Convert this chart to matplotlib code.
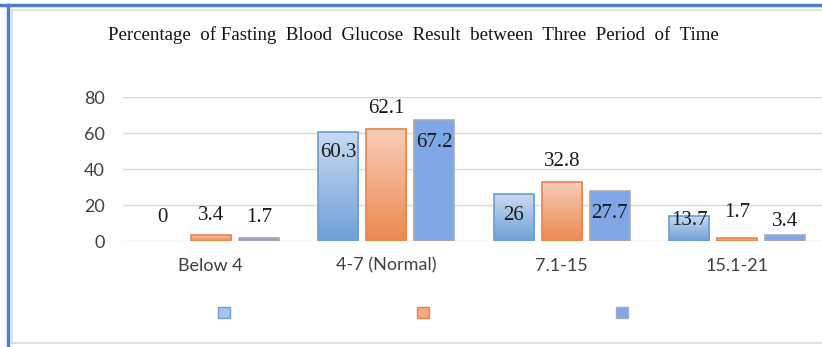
import matplotlib
matplotlib.use('Agg')
import matplotlib.pyplot as plt
import numpy as np
from matplotlib.colors import LinearSegmentedColormap
from matplotlib.patches import Patch
from matplotlib.lines import Line2D

# --- dados ---
categorias = ['Below 4', '4-7 (Normal)', '7.1-15', '15.1-21']
periodo_1 = [0, 60.3, 26, 13.7]
periodo_2 = [3.4, 62.1, 32.8, 1.7]
periodo_3 = [1.7, 67.2, 27.7, 3.4]
titulo = 'Percentage  of Fasting  Blood  Glucose  Result  between  Three  Period  of  Time'

# deslocamento vertical dos rótulos (pixels, + acima do topo da barra, - dentro)
offsets = [
    [23, -20, -21, -4],
    [19, 21, 20, 25],
    [20, -22, -22, 13],
]

W, H = 822, 347
fig = plt.figure(figsize=(W / 100, H / 100), dpi=100)
ax = fig.add_axes([123 / W, (H - 241) / H, 702 / W, 144 / H])

x = np.arange(len(categorias))
largura = 0.228
passo = 0.274

series = [periodo_1, periodo_2, periodo_3]
bordas = ['#6a9fd6', '#ee8446', '#a8acb4']
gradientes = [
    LinearSegmentedColormap.from_list('g1', ['#6fa0d8', '#c8dbf1']),
    LinearSegmentedColormap.from_list('g2', ['#ed8a50', '#f8cdb9']),
    None,
]
cores_legenda = ['#a6c4e8', '#f3ab85', '#7fa6e6']

for s, vals in enumerate(series):
    pos = x + (s - 1) * passo
    barras = ax.bar(pos, vals, largura, color='#7fa6e6' if gradientes[s] is None else 'none',
                    edgecolor=bordas[s], linewidth=1.2, zorder=3)
    for b, v, off in zip(barras, vals, offsets[s]):
        if v == 0:
            b.set_visible(False)
        if gradientes[s] is not None and v > 0:
            x0 = b.get_x()
            grad = np.linspace(0, 1, 256).reshape(-1, 1)
            im = ax.imshow(grad, extent=[x0, x0 + b.get_width(), 0, v], origin='lower',
                           aspect='auto', cmap=gradientes[s], zorder=2.5)
            im.set_clip_path(b)
        ax.annotate(f'{v:g}', (b.get_x() + b.get_width() / 2, v), xytext=(0, off),
                    textcoords='offset pixels', ha='center', va='center',
                    fontsize=15, family='Liberation Serif', color='#1a1a1a', zorder=5)

ax.set_xlim(-0.5, len(categorias) - 0.5)
ax.set_ylim(0, 80)
ax.set_yticks([0, 20, 40, 60, 80])
ax.set_xticks(x)
ax.set_xticklabels(categorias)
ax.grid(axis='y', color='#d9d9d9', linewidth=1, zorder=0)
ax.set_axisbelow(True)
for sp in ax.spines.values():
    sp.set_visible(False)
ax.tick_params(axis='both', length=0, labelsize=13, labelcolor='#404040')
ax.tick_params(axis='y', pad=13)
ax.tick_params(axis='x', pad=12)
for lbl in ax.get_xticklabels() + ax.get_yticklabels():
    lbl.set_family('Lato')

fig.text(413 / W, 1 - 35 / H, titulo, ha='center', va='center',
         fontsize=13.6, family='Liberation Serif', color='#111111')

handles = [Patch(facecolor=c, edgecolor=e, linewidth=1) for c, e in zip(cores_legenda, bordas)]
fig.legend(handles, ['', '', ''], ncol=3, loc='center', bbox_to_anchor=(423 / W, 1 - 313 / H),
           frameon=False, fontsize=10, handlelength=0.85, handleheight=0.85,
           handletextpad=0, columnspacing=13.5)

# moldura
fig.add_artist(Line2D([0, 1], [1 - 5 / H, 1 - 5 / H], color='#4f7fc4', linewidth=2.5))
fig.add_artist(Line2D([8 / W, 8 / W], [0, 1 - 5 / H], color='#4f7fc4', linewidth=2.5))
fig.add_artist(Line2D([12 / W, 1], [1 - 10 / H, 1 - 10 / H], color='#dcdcdc', linewidth=1.2))
fig.add_artist(Line2D([12 / W, 12 / W], [1 - 343 / H, 1 - 10 / H], color='#dcdcdc', linewidth=1.2))
fig.add_artist(Line2D([12 / W, 1], [1 - 343 / H, 1 - 343 / H], color='#dcdcdc', linewidth=1.2))

fig.savefig('out.png', dpi=100)
